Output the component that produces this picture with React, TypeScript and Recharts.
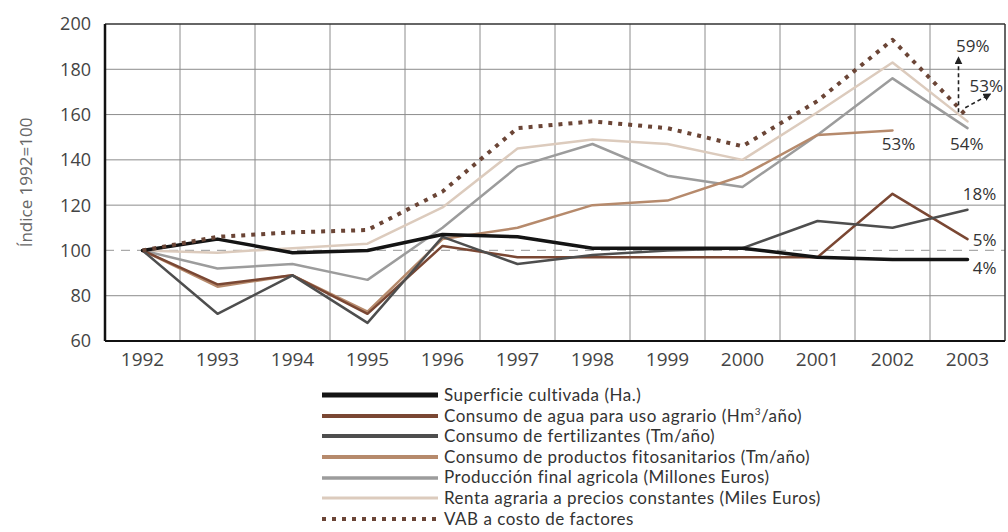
import React from "react";
import { LineChart, Line, XAxis, YAxis, CartesianGrid, ReferenceLine, ReferenceDot } from "recharts";

// indices, 1992 = 100
const years = [1992, 1993, 1994, 1995, 1996, 1997, 1998, 1999, 2000, 2001, 2002, 2003];
const superficie = [100, 105, 99, 100, 107, 106, 101, 101, 101, 97, 96, 96];
const agua = [100, 85, 89, 72, 102, 97, 97, 97, 97, 97, 125, 105];
const fertilizantes = [100, 72, 89, 68, 106, 94, 98, 100, 101, 113, 110, 118];
const fitosanitarios = [100, 84, 89, 73, 105, 110, 120, 122, 133, 151, 153, null];
const produccion = [100, 92, 94, 87, 110, 137, 147, 133, 128, 151, 176, 154];
const renta = [100, 99, 101, 103, 119, 145, 149, 147, 140, 161, 183, 157];
const vab = [100, 106, 108, 109, 126, 154, 157, 154, 146, 166, 193, 159];

const yTicks = [60, 80, 100, 120, 140, 160, 180, 200];
const gridY = [80, 120, 140, 160, 180];
const gridX = years.slice(0, -1).map((y) => y + 0.5);

// change labels at the end of the series
const pctLabels = [
  { text: "59%", year: 2003.07, value: 190.5 },
  { text: "53%", year: 2003.25, value: 173 },
  { text: "53%", year: 2002.08, value: 147.4 },
  { text: "54%", year: 2002.99, value: 147.4 },
  { text: "18%", year: 2003.16, value: 125.3 },
  { text: "5%", year: 2003.23, value: 105 },
  { text: "4%", year: 2003.23, value: 92.6 },
];
const arrows = [
  { x1: 2002.88, y1: 161, x2: 2002.88, y2: 185 },
  { x1: 2002.97, y1: 163, x2: 2003.3, y2: 169 },
];

const series = [
  { key: "renta", name: "Renta agraria a precios constantes (Miles Euros)", color: "#dccbbd", width: 2.5, legendWidth: 3 },
  { key: "produccion", name: "Producción final agricola (Millones Euros)", color: "#9c9c9c", width: 2.5, legendWidth: 3.5 },
  { key: "fitosanitarios", name: "Consumo de productos fitosanitarios (Tm/año)", color: "#b68a6c", width: 2.5, legendWidth: 4 },
  { key: "agua", name: "Consumo de agua para uso agrario (Hm³/año)", color: "#7a4733", width: 2.5, legendWidth: 4 },
  { key: "fertilizantes", name: "Consumo de fertilizantes (Tm/año)", color: "#4e4e4e", width: 2.5, legendWidth: 4 },
  { key: "superficie", name: "Superficie cultivada (Ha.)", color: "#141414", width: 3.5, legendWidth: 5 },
  { key: "vab", name: "VAB a costo de factores", color: "#6b4536", width: 4, legendWidth: 4, dash: "4 6" },
];

const legendOrder = ["superficie", "agua", "fertilizantes", "fitosanitarios", "produccion", "renta", "vab"];

const data = years.map((year, i) => ({
  year,
  superficie: superficie[i],
  agua: agua[i],
  fertilizantes: fertilizantes[i],
  fitosanitarios: fitosanitarios[i],
  produccion: produccion[i],
  renta: renta[i],
  vab: vab[i],
}));

const font = "'Open Sans', sans-serif";
const legendFont = "Lato, sans-serif";

function LegendBlock() {
  return (
    <div
      style={{
        position: "absolute",
        left: 322,
        top: 385,
        fontFamily: legendFont,
        fontSize: 17,
        letterSpacing: 0.5,
        color: "#333",
        lineHeight: "20.6px",
      }}
    >
      {legendOrder.map((k) => {
        const s = series.find((x) => x.key === k)!;
        return (
          <div key={k} style={{ display: "flex", alignItems: "center", height: 20.6 }}>
            <svg width={118} height={10} style={{ marginRight: 4 }}>
              <line x1={0} y1={5} x2={116} y2={5} stroke={s.color} strokeWidth={s.legendWidth} strokeDasharray={s.dash} />
            </svg>
            <span style={{ whiteSpace: "nowrap" }}>
              {k === "agua" ? (
                <>Consumo de agua para uso agrario (Hm<sup style={{ fontSize: 10, lineHeight: 0 }}>3</sup>/año)</>
              ) : (
                s.name
              )}
            </span>
          </div>
        );
      })}
    </div>
  );
}

export default function App() {
  return (
    <div style={{ position: "absolute", left: 0, top: 0, width: 1008, height: 532, background: "#fff" }}>
      <LineChart width={1008} height={532} data={data} margin={{ top: 24, right: 3, bottom: 161, left: 0 }}>
        <defs>
          <marker id="arrowHead" viewBox="0 0 10 10" refX="8" refY="5" markerWidth="5" markerHeight="5" orient="auto">
            <path d="M0,0 L10,5 L0,10 z" fill="#222" />
          </marker>
        </defs>
        <CartesianGrid stroke="#8c8c8c" strokeWidth={1} horizontalValues={gridY} verticalValues={gridX} />
        <ReferenceLine y={100} stroke="#aaa" strokeWidth={1.2} strokeDasharray="9 7" />
        <ReferenceLine y={200} stroke="#333" strokeWidth={1.5} />
        <ReferenceLine x={2003.5} stroke="#333" strokeWidth={1.5} />
        <XAxis
          type="number"
          dataKey="year"
          domain={[1991.5, 2003.5]}
          ticks={years}
          interval={0}
          tickLine={false}
          tickMargin={6}
          axisLine={{ stroke: "#111", strokeWidth: 2 }}
          tick={{ fill: "#444", fontSize: 19, fontFamily: font }}
        />
        <YAxis
          type="number"
          domain={[60, 200]}
          ticks={yTicks}
          width={105}
          tickLine={false}
          tickMargin={8}
          axisLine={{ stroke: "#111", strokeWidth: 2.5 }}
          tick={{ fill: "#444", fontSize: 18, fontFamily: font }}
          label={{
            content: (p: any) => {
              const vb = p.viewBox || { y: 24, height: 317 };
              const cy = vb.y + vb.height / 2;
              return (
                <text
                  x={25}
                  y={cy}
                  transform={`rotate(-90, 25, ${cy})`}
                  textAnchor="middle"
                  dominantBaseline="central"
                  fill="#666"
                  fontSize={17}
                  fontFamily={font}
                >
                  Índice 1992=100
                </text>
              );
            },
          }}
        />
        {series.map((s) => (
          <Line
            key={s.key}
            type="linear"
            dataKey={s.key}
            name={s.name}
            stroke={s.color}
            strokeWidth={s.width}
            strokeDasharray={s.dash}
            strokeLinecap={s.dash ? "butt" : "round"}
            strokeLinejoin="round"
            dot={false}
            activeDot={false}
            isAnimationActive={false}
          />
        ))}
        {arrows.map((a, i) => (
          <ReferenceLine
            key={`arrow-${i}`}
            segment={[
              { x: a.x1, y: a.y1 },
              { x: a.x2, y: a.y2 },
            ]}
            stroke="#222"
            strokeWidth={1.6}
            strokeDasharray="4 3"
            markerEnd="url(#arrowHead)"
          />
        ))}
        {pctLabels.map((l, i) => (
          <ReferenceDot
            key={`pct-${i}`}
            x={l.year}
            y={l.value}
            r={1}
            shape={(p: any) => (
              <text
                x={p.cx}
                y={p.cy}
                textAnchor="middle"
                dominantBaseline="central"
                fill="#333"
                fontSize={17}
                fontFamily={font}
              >
                {l.text}
              </text>
            )}
          />
        ))}
      </LineChart>
      <LegendBlock />
    </div>
  );
}
